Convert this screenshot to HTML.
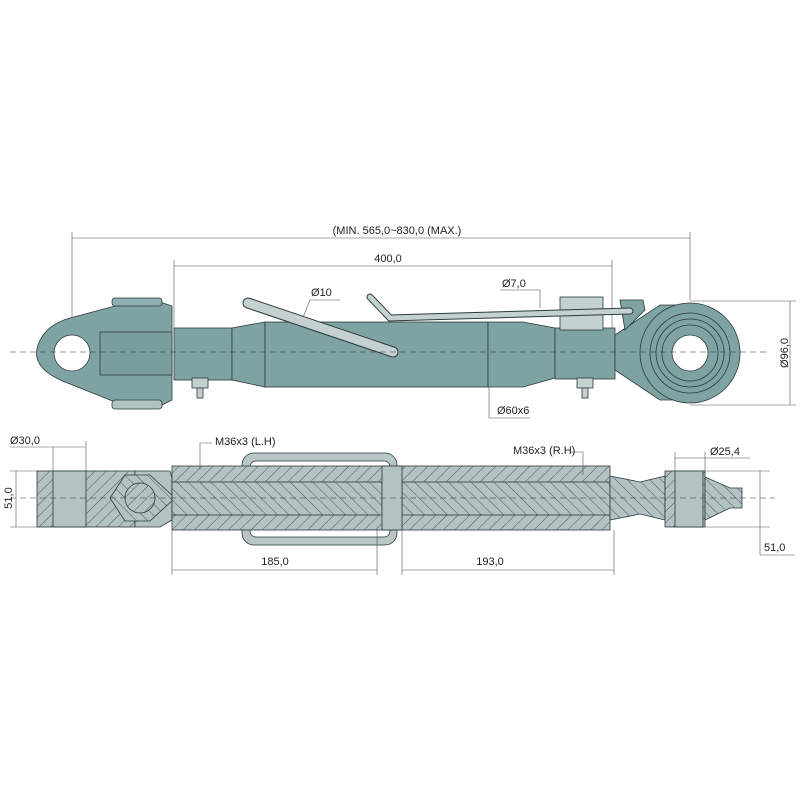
<!DOCTYPE html>
<html><head><meta charset="utf-8"><style>body{margin:0;background:#fff}svg{display:block}text{font-family:"Liberation Sans",sans-serif;font-size:11px;fill:#222}</style></head><body>
<svg width="800" height="800" viewBox="0 0 800 800">
<defs>
<pattern id="h" width="8" height="8" patternUnits="userSpaceOnUse" patternTransform="rotate(45)"><rect width="8" height="8" fill="#b3c3c3"/><line x1="0" y1="0" x2="0" y2="8" stroke="#3a4a4a" stroke-width="0.9"/></pattern>
<pattern id="h2" width="8" height="8" patternUnits="userSpaceOnUse" patternTransform="rotate(-45)"><rect width="8" height="8" fill="#b3c3c3"/><line x1="0" y1="0" x2="0" y2="8" stroke="#3a4a4a" stroke-width="0.9"/></pattern>
</defs>
<g stroke="#555" stroke-width="0.6" fill="none">
<line x1="72" y1="238" x2="690" y2="238"/><line x1="72" y1="232" x2="72" y2="345"/><line x1="690" y1="232" x2="690" y2="300"/>
<line x1="174" y1="266" x2="612" y2="266"/><line x1="174" y1="260" x2="174" y2="330"/><line x1="612" y1="260" x2="612" y2="330"/>
<line x1="690" y1="301" x2="796" y2="301"/><line x1="690" y1="405" x2="796" y2="405"/><line x1="790" y1="301" x2="790" y2="405"/>
<polyline points="300,325 310,300 340,300"/><polyline points="540,308 540,290 500,290"/><polyline points="489,385 489,418 530,418"/>
</g>
<g stroke="#2b3a3a" stroke-width="0.8">
<path d="M115,306 L160,302 L172,306 L172,400 L160,406 L115,402 L65,382 Q30,368 38,345 Q45,325 70,318 Z" fill="#7fa3a3"/>
<rect x="112" y="298" width="50" height="8" rx="3" fill="#8fb0b0"/>
<rect x="112" y="400" width="50" height="9" rx="3" fill="#b0c2c2"/>
<rect x="100" y="332" width="72" height="43" fill="#7a9e9e"/>
<circle cx="72" cy="353" r="18" fill="#fff"/>
<rect x="174" y="328" width="58" height="52" fill="#7fa3a3"/>
<path d="M232,328 L265,322 L265,387 L232,380 Z" fill="#7fa3a3"/>
<rect x="265" y="322" width="223" height="65" fill="#7fa3a3"/>
<path d="M488,322 L523,322 L555,328 L555,378 L523,387 L488,387 Z" fill="#7fa3a3"/>
<rect x="555" y="328" width="60" height="51" fill="#7fa3a3"/>
<path d="M615,335 L660,305 L700,305 L700,400 L660,400 L615,370 Z" fill="#7fa3a3"/>
<path d="M620,300 L643,300 L645,310 L625,330 Z" fill="#7fa3a3"/>
<circle cx="690" cy="353" r="50" fill="#7fa3a3"/>
<circle cx="690" cy="353" r="40" fill="none"/><circle cx="690" cy="353" r="34" fill="none"/><circle cx="690" cy="353" r="28" fill="none"/>
<circle cx="690" cy="353" r="18" fill="#fff"/>
<rect x="560" y="297" width="43" height="33" fill="#c5d0d0"/>
<path d="M248,303 L393,352" stroke="#2b3a3a" stroke-width="11" stroke-linecap="round"/>
<path d="M248,303 L393,352" stroke="#c5d0d0" stroke-width="9" stroke-linecap="round"/>
<path d="M370,297 L390,318 L630,311" stroke="#2b3a3a" stroke-width="7" fill="none" stroke-linecap="round"/>
<path d="M370,297 L390,318 L630,311" stroke="#c5d0d0" stroke-width="5" fill="none" stroke-linecap="round"/>
<rect x="192" y="378" width="16" height="10" fill="#c5d0d0"/><rect x="197" y="388" width="6" height="10" fill="#c5d0d0"/>
<rect x="577" y="378" width="16" height="10" fill="#c5d0d0"/><rect x="582" y="388" width="6" height="10" fill="#c5d0d0"/>
</g>
<line x1="10" y1="352" x2="770" y2="352" stroke="#333" stroke-width="0.6" stroke-dasharray="6,4"/>
<g stroke="#2b3a3a" stroke-width="0.8">
<rect x="37" y="471" width="98" height="56" fill="url(#h)"/>
<rect x="53" y="471" width="33" height="56" fill="#b3c3c3"/>
<path d="M135,471 L170,471 L172,478 L172,520 L160,527 L135,527 Z" fill="#b3c3c3"/>
<path d="M110,498 L125,475 L150,475 L175,498 L150,521 L125,521 Z" fill="url(#h2)"/>
<circle cx="140" cy="498" r="15" fill="url(#h)"/>
<rect x="242" y="453" width="155" height="92" rx="12" fill="#b9c6c6"/>
<rect x="250" y="461" width="140" height="76" rx="6" fill="#fff"/>
<rect x="172" y="466" width="438" height="64" fill="url(#h)"/>
<rect x="172" y="482" width="210" height="33" fill="url(#h2)"/>
<rect x="402" y="482" width="208" height="33" fill="url(#h2)"/>
<rect x="382" y="466" width="20" height="64" fill="#b3c3c3"/>
<path d="M610,476 L640,482 L665,476 L665,520 L640,514 L610,520 Z" fill="url(#h2)"/>
<rect x="665" y="471" width="40" height="56" fill="url(#h)"/>
<rect x="675" y="471" width="28" height="56" fill="#b3c3c3"/>
<path d="M705,477 L730,488 L742,488 L742,508 L730,508 L705,520 Z" fill="url(#h2)"/>
</g>
<line x1="10" y1="498" x2="775" y2="498" stroke="#333" stroke-width="0.6" stroke-dasharray="6,4"/>
<g stroke="#555" stroke-width="0.6" fill="none">
<line x1="10" y1="471" x2="40" y2="471"/><line x1="10" y1="527" x2="40" y2="527"/><line x1="16" y1="471" x2="16" y2="527"/>
<line x1="53" y1="447" x2="53" y2="471"/><line x1="86" y1="441" x2="86" y2="471"/><line x1="10" y1="447" x2="86" y2="447"/>
<polyline points="200,470 200,443 212,443"/><polyline points="583,475 583,452 570,452"/>
<line x1="675" y1="452" x2="675" y2="471"/><line x1="705" y1="452" x2="705" y2="471"/><line x1="675" y1="458" x2="750" y2="458"/>
<line x1="705" y1="471" x2="770" y2="471"/><line x1="705" y1="527" x2="770" y2="527"/><line x1="760" y1="471" x2="760" y2="555"/><line x1="760" y1="555" x2="795" y2="555"/>
<line x1="172" y1="530" x2="172" y2="575"/><line x1="377" y1="530" x2="377" y2="575"/><line x1="172" y1="570" x2="377" y2="570"/>
<line x1="402" y1="530" x2="402" y2="575"/><line x1="614" y1="530" x2="614" y2="575"/><line x1="402" y1="570" x2="614" y2="570"/>
</g>
<text x="397" y="234" text-anchor="middle">(MIN. 565,0~830,0 (MAX.)</text>
<text x="388" y="262" text-anchor="middle">400,0</text>
<text x="311" y="296">Ø10</text>
<text x="502" y="287">Ø7,0</text>
<text x="497" y="414">Ø60x6</text>
<text x="0" y="0" transform="translate(788,353) rotate(-90)" text-anchor="middle">Ø96,0</text>
<text x="10" y="444">Ø30,0</text>
<text x="0" y="0" transform="translate(12,498) rotate(-90)" text-anchor="middle">51,0</text>
<text x="215" y="445">M36x3 (L.H)</text>
<text x="513" y="454">M36x3 (R.H)</text>
<text x="710" y="455">Ø25,4</text>
<text x="764" y="551">51,0</text>
<text x="275" y="565" text-anchor="middle">185,0</text>
<text x="490" y="565" text-anchor="middle">193,0</text>
</svg>
</body></html>
